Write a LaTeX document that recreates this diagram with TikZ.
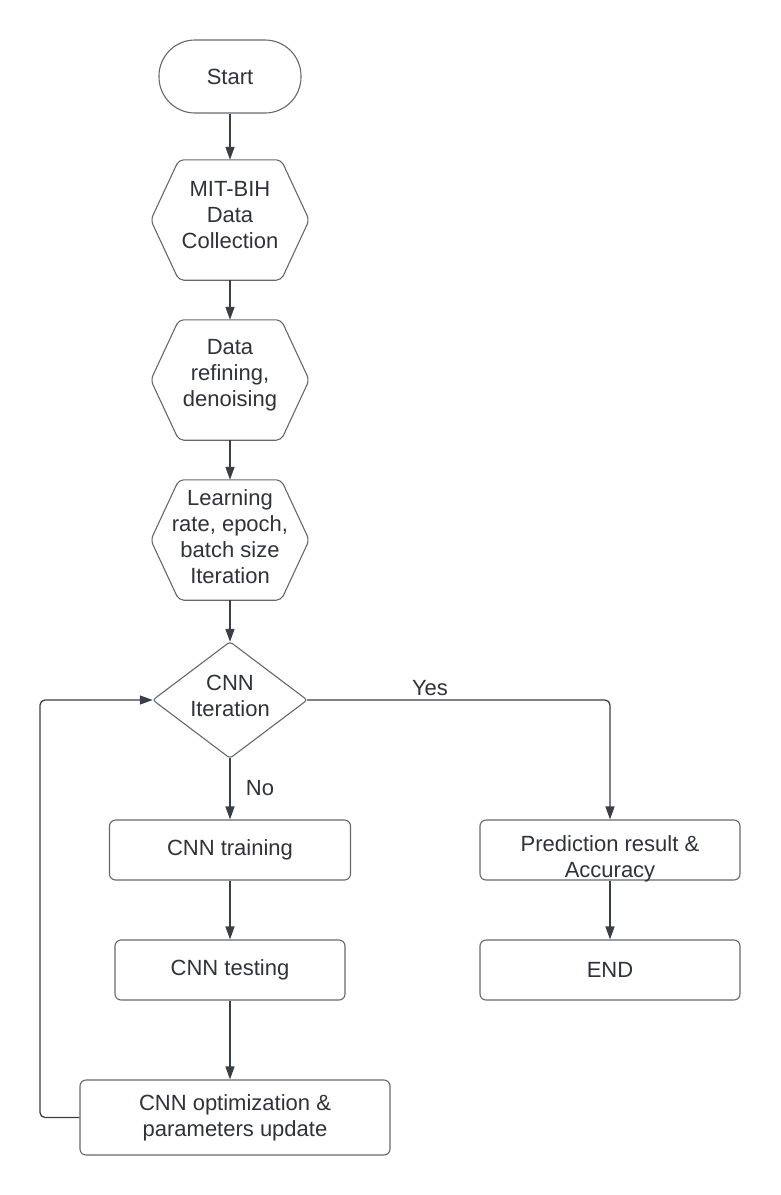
\documentclass[tikz,border=0pt]{standalone}
\usepackage{fontspec}
\setmainfont{Liberation Sans}
\usetikzlibrary{arrows.meta}
\definecolor{txt}{RGB}{46,50,58}
\definecolor{edge}{RGB}{100,104,110}
\definecolor{conn}{RGB}{58,62,70}
\tikzset{
  base/.style={inner sep=0pt, text=txt, align=center, font=\fontsize{22}{26}\selectfont},
  boxnode/.style={base, draw=edge, line width=1.1pt, rounded corners=6pt},
  shapeline/.style={draw=edge, line width=1.1pt, rounded corners=5pt},
  arr/.style={draw=conn, line width=1.3pt, -{Triangle[width=9pt,length=13pt]}},
  lbl/.style={text=txt, inner sep=0pt, font=\fontsize{22}{26}\selectfont}
}
\begin{document}
\begin{tikzpicture}[x=1pt,y=-1pt]
\useasboundingbox (0,0) rectangle (781,1195);
% start
\node[boxnode, rounded corners=36pt, minimum width=142pt, minimum height=73pt] (start) at (230,76.5) {Start};
% hexagons
\node[base, minimum width=158pt, minimum height=120pt] (h1) at (230,220) {};
\node[base] (h1t) at (230,215.5) {MIT-BIH\\Data\\Collection};
\node[base, minimum width=158pt, minimum height=120pt] (h2) at (230,380) {};
\node[base] (h2t) at (230,375) {Data\\refining,\\denoising};
\node[base, minimum width=158pt, minimum height=120pt] (h3) at (230,540) {};
\node[base] (h3t) at (230,537) {Learning\\rate, epoch,\\batch size\\Iteration};
\foreach \h in {h1,h2,h3}{
  \draw[shapeline] (\h.west) -- ([xshift=28pt]\h.north west) -- ([xshift=-28pt]\h.north east) -- (\h.east) -- ([xshift=-28pt]\h.south east) -- ([xshift=28pt]\h.south west) -- cycle;
}
% diamond
\node[base, minimum width=154pt, minimum height=116pt] (d) at (230,700) {};
\node[base] (dt) at (230,696) {CNN\\Iteration};
\draw[shapeline, rounded corners=3pt] (d.west) -- (d.north) -- (d.east) -- (d.south) -- cycle;
% boxes
\node[boxnode, minimum width=241pt, minimum height=60pt] (train) at (230,850) {CNN training};
\node[boxnode, minimum width=230pt, minimum height=60pt] (test) at (230,970) {CNN testing};
\node[boxnode, minimum width=310pt, minimum height=75pt] (opt) at (235,1117.5) {CNN optimization \&\\parameters update};
\node[boxnode, minimum width=260pt, minimum height=60pt] (pred) at (610,850) {};
\node[base] (predt) at (610,859) {Prediction result \&\\Accuracy};
\node[boxnode, minimum width=260pt, minimum height=60pt] (end) at (610,970) {END};
% connectors
\draw[arr] (start.south) -- (h1.north);
\draw[arr] (h1.south) -- (h2.north);
\draw[arr] (h2.south) -- (h3.north);
\draw[arr] (h3.south) -- (d.north);
\draw[arr] (d.south) -- (train.north);
\draw[arr] (train.south) -- (test.north);
\draw[arr] (test.south) -- (test.south |- opt.north);
\draw[arr] (pred.south) -- (end.north);
\coordinate (lp) at (40,1117.5);
\draw[arr, rounded corners=5pt] (opt.west) -- (lp) |- (d.west);
\draw[arr, rounded corners=5pt] (d.east) -| (pred.north);
% labels
\node[lbl] (no) at (260,788) {No};
\node[lbl] (yes) at (430,688) {Yes};
\end{tikzpicture}
\end{document}
